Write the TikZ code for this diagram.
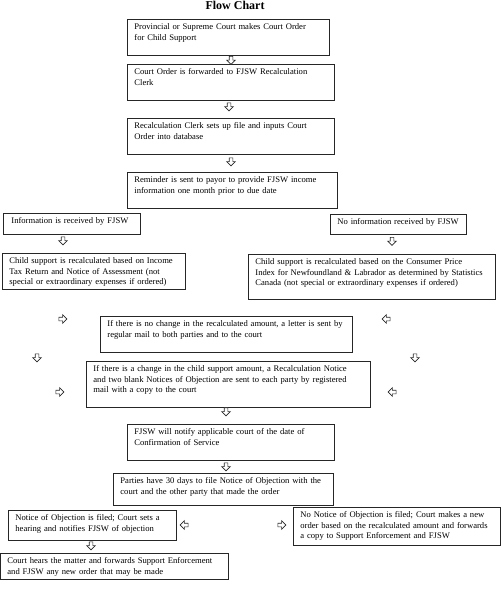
\documentclass[tikz,border=0pt]{standalone}
\usepackage{fontspec}
\setmainfont{Liberation Serif}
\usepackage{tikz}
\usetikzlibrary{shapes.arrows}

\begin{document}
\begin{tikzpicture}[x=1pt, y=-1pt,
        flowbox/.style={draw=black!85, line width=0.8pt, anchor=north west, align=left,
                inner xsep=7pt, inner ysep=4.5pt, font=\fontsize{8.6}{10.5}\selectfont,
                execute at begin node={\rightskip=0pt plus 1fil minus 40pt}},
        hollow/.style={single arrow, draw=black!85, line width=0.6pt, fill=white,
                minimum height=8pt, inner sep=1.5pt, single arrow head extend=2.5pt}]
        \useasboundingbox (0,0) rectangle (501,614);

        \node[font=\fontsize{12}{14}\selectfont\bfseries, anchor=base] (title) at (235,9) {Flow Chart};

        \node[flowbox, text width=188pt, text depth=20.7pt] (b1) at (127,19) {Provincial or Supreme Court makes Court Order\\for Child Support};
        \node[flowbox, text width=193pt, text depth=20.7pt] (b2) at (127,64) {Court Order is forwarded to FJSW Recalculation\\Clerk};
        \node[flowbox, text width=193pt, text depth=20.7pt] (b3) at (127,118) {Recalculation Clerk sets up file and inputs Court\\Order into database};
        \node[flowbox, text width=196pt, text depth=20.7pt] (b4) at (127,172) {Reminder is sent to payor to provide FJSW income\\information one month prior to due date};
        \node[flowbox, text width=121pt, text depth=5.7pt, inner xsep=8pt] (infoL) at (3,213) {Information is received by FJSW};
        \node[flowbox, text width=122pt, text depth=5.7pt] (infoR) at (330,213.5) {No information received by FJSW};
        \node[flowbox, text width=169pt, text depth=20.7pt] (calcL) at (2,253) {Child support is recalculated based on Income\\Tax Return and Notice of Assessment (not\\special or extraordinary expenses if ordered)};
        \node[flowbox, text width=233pt, text depth=29.7pt] (calcR) at (248,254) {Child support is recalculated based on the Consumer Price\\Index for Newfoundland \& Labrador as determined by Statistics\\Canada (not special or extraordinary expenses if ordered)};
        \node[flowbox, text width=238pt, text depth=20.7pt] (nochange) at (100,316) {If there is no change in the recalculated amount, a letter is sent by\\regular mail to both parties and to the court};
        \node[flowbox, text width=270pt, text depth=30.7pt] (change) at (86,361) {If there is a change in the child support amount, a Recalculation Notice\\and two blank Notices of Objection are sent to each party by registered\\mail with a copy to the court};
        \node[flowbox, text width=193pt, text depth=20.7pt] (notify) at (127,424) {FJSW will notify applicable court of the date of\\Confirmation of Service};
        \node[flowbox, text width=206pt, text depth=16.7pt] (days) at (113,473) {Parties have 30 days to file Notice of Objection with the\\court and the other party that made the order};
        \node[flowbox, text width=154pt, text depth=14.7pt] (objL) at (8,510) {Notice of Objection is filed; Court sets a\\hearing and notifies FJSW of objection};
        \node[flowbox, text width=193pt, text depth=22.7pt] (objR) at (293,507) {No Notice of Objection is filed; Court makes a new\\order based on the recalculated amount and forwards\\a copy to Support Enforcement and FJSW};
        \node[flowbox, text width=214pt, text depth=10.7pt] (hears) at (0,553) {Court hears the matter and forwards Support Enforcement\\and FJSW any new order that may be made};

        % hollow block arrows
        \foreach \n/\x/\y/\r in {d1/231/59.5/270, d2/229/106/270, d3/231/161/270, d4/63/240/270,
                d5/392/240.5/270, d6/62/319/0, d7/387/319/180, d8/37/357/270, d9/415/357/270,
                d10/59/392/0, d11/393/392/180, d12/226/411/270, d13/226/466/270,
                d14/185/525/180, d15/281/525/0, d16/91/545/270} {
                \node[hollow, shape border rotate=\r] (\n) at (\x,\y) {};
        }
\end{tikzpicture}
\end{document}
